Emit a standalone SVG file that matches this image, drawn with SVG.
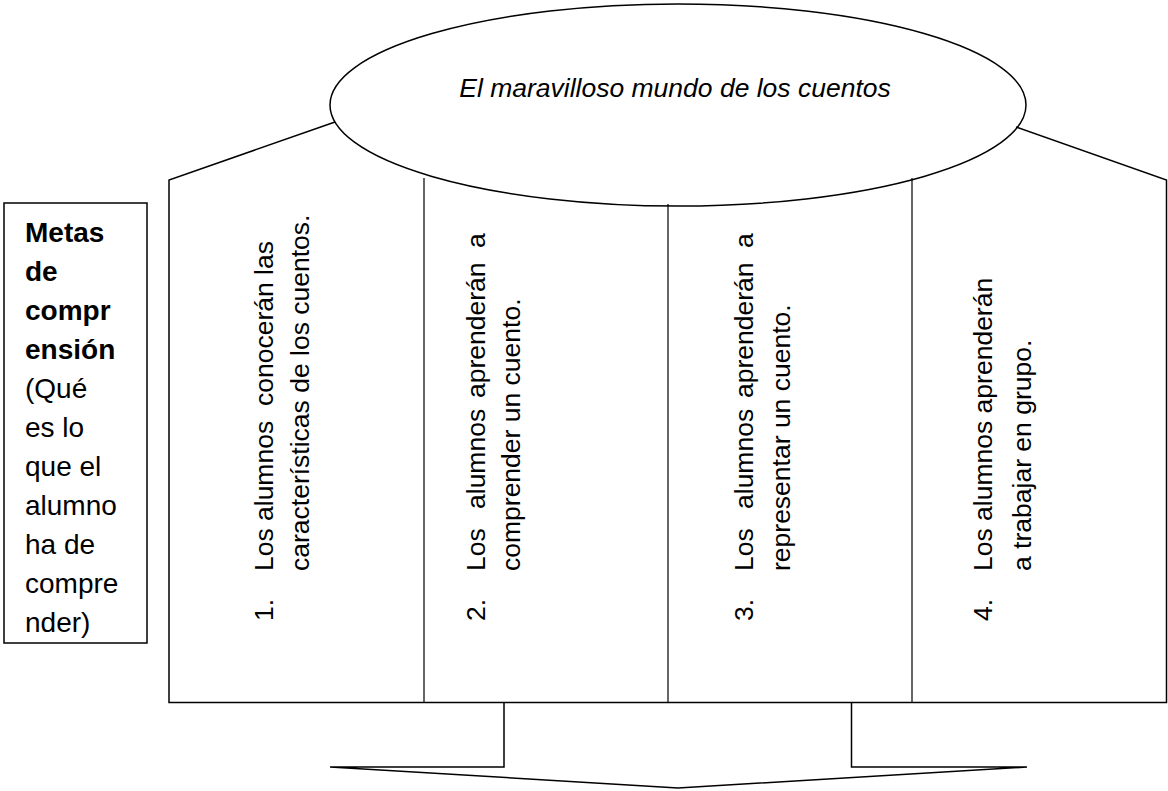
<svg xmlns="http://www.w3.org/2000/svg" width="1168" height="791" viewBox="0 0 1168 791">
<style>
.ln{fill:none;stroke:#000;stroke-width:1.5}
.dv{fill:none;stroke:#000;stroke-width:1.2}
.t{font-family:"Liberation Sans",Arial,sans-serif;font-size:26.5px;fill:#000}
.m{font-family:"Liberation Sans",Arial,sans-serif;font-size:28px;fill:#000}
.b{font-weight:bold}
</style>
<rect width="1168" height="791" fill="#fff"/>
<g id="goals-frame">
<path class="ln" d="M335,122 L169,180 L169,702.5 L1166.5,702.5 L1166.5,180 L1016,127"/>
<line class="dv" x1="424" y1="178" x2="424" y2="702"/>
<line class="dv" x1="668" y1="204" x2="668" y2="702"/>
<line class="dv" x1="912" y1="178" x2="912" y2="702"/>
</g>
<g id="title">
<ellipse class="ln" cx="678" cy="105" rx="348" ry="101" fill="#fff"/>
<text class="t" x="675" y="97" text-anchor="middle" font-style="italic">El maravilloso mundo de los cuentos</text>
</g>
<g id="metas-label">
<rect class="ln" x="4" y="203" width="143" height="440" fill="#fff"/>
<text class="m" x="25">
<tspan class="b" x="25" y="242">Metas</tspan>
<tspan class="b" x="25" y="281">de</tspan>
<tspan class="b" x="25" y="320">compr</tspan>
<tspan class="b" x="25" y="359">ensión</tspan>
<tspan x="25" y="398">(Qué</tspan>
<tspan x="25" y="437">es lo</tspan>
<tspan x="25" y="476">que el</tspan>
<tspan x="25" y="515">alumno</tspan>
<tspan x="25" y="554">ha de</tspan>
<tspan x="25" y="593">compre</tspan>
<tspan x="25" y="632">nder)</tspan>
</text>
</g>
<g id="goal-1">
<text class="t" transform="translate(273,571) rotate(-90)"><tspan x="-50">1.</tspan><tspan x="0">Los</tspan><tspan x="50">alumnos</tspan><tspan x="165">conocerán</tspan><tspan x="296">las</tspan></text>
<text class="t" transform="translate(309,571) rotate(-90)" x="0">características de los cuentos.</text>
</g>
<g id="goal-2">
<text class="t" transform="translate(485,571) rotate(-90)"><tspan x="-50">2.</tspan><tspan x="0">Los</tspan><tspan x="62">alumnos</tspan><tspan x="173">aprenderán</tspan><tspan x="323">a</tspan></text>
<text class="t" transform="translate(520,571) rotate(-90)" x="0">comprender un cuento.</text>
</g>
<g id="goal-3">
<text class="t" transform="translate(753,571) rotate(-90)"><tspan x="-50">3.</tspan><tspan x="0">Los</tspan><tspan x="62">alumnos</tspan><tspan x="173">aprenderán</tspan><tspan x="323">a</tspan></text>
<text class="t" transform="translate(790,571) rotate(-90)" x="0">representar un cuento.</text>
</g>
<g id="goal-4">
<text class="t" transform="translate(992,571) rotate(-90)"><tspan x="-50">4.</tspan><tspan x="0">Los alumnos aprenderán</tspan></text>
<text class="t" transform="translate(1031,571) rotate(-90)" x="0">a trabajar en grupo.</text>
</g>
<g id="connectors">
<path class="ln" d="M504,702.5 L504,767 L330,767 L678,788 L1027,767 L851.5,767 L851.5,702.5"/>
</g>
</svg>
